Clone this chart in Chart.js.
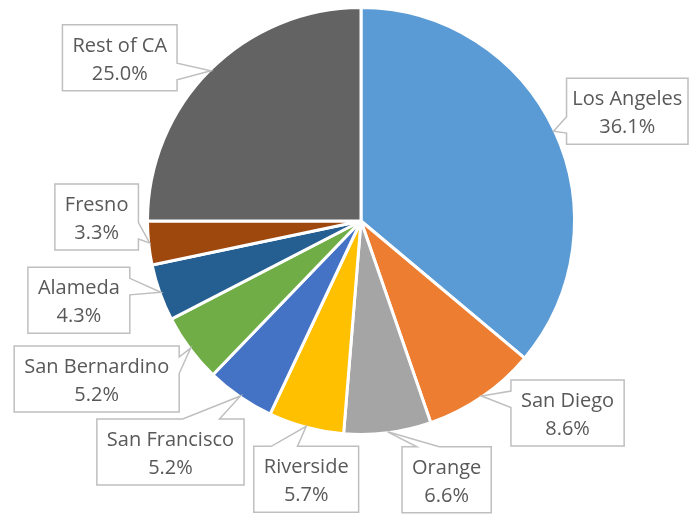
<!DOCTYPE html>
<html>
<head>
<meta charset="utf-8">
<script src="https://cdn.jsdelivr.net/npm/chart.js@4.4.1/dist/chart.umd.min.js"></script>
<style>
    html, body { margin: 0; padding: 0; background: #ffffff; }
    canvas { display: block; }
</style>
</head>
<body>
<canvas id="pieChart" width="689" height="514"></canvas>
<script>
// County shares of the California total (percent)
const counties = ['Los Angeles', 'San Diego', 'Orange', 'Riverside', 'San Francisco',
    'San Bernardino', 'Alameda', 'Fresno', 'Rest of CA'];
const shares = [36.1, 8.6, 6.6, 5.7, 5.2, 5.2, 4.3, 3.3, 25.0];
const sliceColors = ['#5B9BD5', '#ED7D31', '#A5A5A5', '#FFC000', '#4472C4',
    '#70AD47', '#255E91', '#9E480E', '#636363'];

// Where each callout box sits, relative to the point on the slice edge
const calloutOffsets = [[78, -20], [86, 17], [59, 48], [0, 53], [-70, 56],
    [-94, 31], [-82, 8], [-53, -26], [-91, -13]];

const LABEL_FONT = '20px "Open Sans", "Noto Sans", sans-serif';
const LABEL_COLOR = '#595959';
const BOX_BORDER = '#BFBFBF';

/**
 * Draws an Excel-like "wedge rectangle" callout
 */
function drawCallout(ctx, L, T, w, h, tipX, tipY) {
    const R = L + w, B = T + h;
    const cx = L + w / 2, cy = T + h / 2;
    const dxPos = tipX - cx, dyPos = tipY - cy;
    const inside = tipX > L && tipX < R && tipY > T && tipY < B;
    let side = null;
    if (!inside) {
        if (Math.abs(dxPos * h) > Math.abs(dyPos * w)) {
            side = dxPos < 0 ? 'left' : 'right';
        } else {
            side = dyPos < 0 ? 'top' : 'bottom';
        }
    }
    const x1 = L + w * (dxPos > 0 ? 7 : 2) / 12;
    const x2 = L + w * (dxPos > 0 ? 10 : 5) / 12;
    const y1 = T + h * (dyPos > 0 ? 7 : 2) / 12;
    const y2 = T + h * (dyPos > 0 ? 10 : 5) / 12;

    ctx.beginPath();
    ctx.moveTo(L, T);
    if (side === 'top') { ctx.lineTo(x1, T); ctx.lineTo(tipX, tipY); ctx.lineTo(x2, T); }
    ctx.lineTo(R, T);
    if (side === 'right') { ctx.lineTo(R, y1); ctx.lineTo(tipX, tipY); ctx.lineTo(R, y2); }
    ctx.lineTo(R, B);
    if (side === 'bottom') { ctx.lineTo(x2, B); ctx.lineTo(tipX, tipY); ctx.lineTo(x1, B); }
    ctx.lineTo(L, B);
    if (side === 'left') { ctx.lineTo(L, y2); ctx.lineTo(tipX, tipY); ctx.lineTo(L, y1); }
    ctx.closePath();
    ctx.fillStyle = '#ffffff';
    ctx.fill();
    ctx.lineWidth = 1.5;
    ctx.strokeStyle = BOX_BORDER;
    ctx.lineJoin = 'miter';
    ctx.stroke();
}

const calloutPlugin = {
    id: 'callouts',
    afterDatasetsDraw(chart) {
        const ctx = chart.ctx;
        const meta = chart.getDatasetMeta(0);
        const W = chart.width;
        ctx.save();
        ctx.font = LABEL_FONT;
        meta.data.forEach((arc, i) => {
            const p = arc.getProps(['x', 'y', 'startAngle', 'endAngle', 'outerRadius'], true);
            const mid = (p.startAngle + p.endAngle) / 2;
            const tipX = p.x + Math.cos(mid) * (p.outerRadius - 1);
            const tipY = p.y + Math.sin(mid) * (p.outerRadius - 1);

            const lines = [counties[i], shares[i].toFixed(1) + '%'];
            const textW = Math.max(...lines.map(t => ctx.measureText(t).width));
            const boxW = textW + 20;
            const boxH = 66;
            const cx = tipX + calloutOffsets[i][0];
            const cy = tipY + calloutOffsets[i][1];
            let L = cx - boxW / 2;
            let R = L + boxW;
            // keep the box inside the canvas
            if (R > W - 1) R = W - 1;
            const T = cy - boxH / 2;

            drawCallout(ctx, L, T, R - L, boxH, tipX, tipY);

            ctx.fillStyle = LABEL_COLOR;
            ctx.textAlign = 'center';
            ctx.textBaseline = 'alphabetic';
            const mx = (L + R) / 2;
            ctx.fillText(lines[0], mx, T + boxH / 2 - 6);
            ctx.fillText(lines[1], mx, T + boxH / 2 + 22);
        });
        ctx.restore();
    }
};

const chart = new Chart(document.getElementById('pieChart').getContext('2d'), {
    type: 'pie',
    data: {
        labels: counties,
        datasets: [{
            data: shares,
            backgroundColor: sliceColors,
            borderColor: '#ffffff',
            borderWidth: 3,
            borderJoinStyle: 'round'
        }]
    },
    options: {
        responsive: false,
        animation: false,
        layout: {
            padding: { left: 146, right: 113, top: 6, bottom: 78 }
        },
        plugins: {
            legend: { display: false },
            tooltip: { enabled: false }
        }
    },
    plugins: [calloutPlugin]
});
</script>
</body>
</html>
